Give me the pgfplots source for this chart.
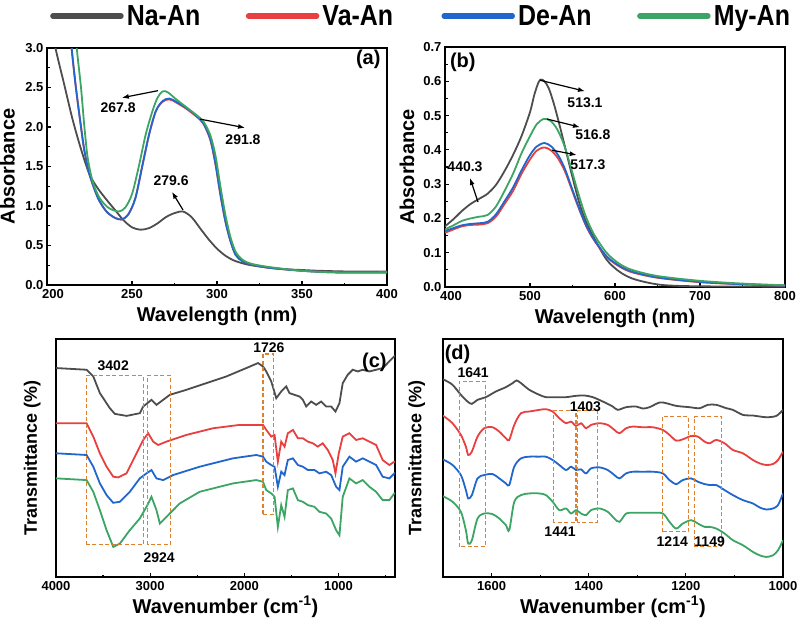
\documentclass[border=0pt]{standalone}
\usepackage{fontspec}
\setmainfont{Liberation Sans}
\newfontfamily\legfont[FakeStretch=0.86]{Liberation Sans}
\usepackage{pgfplots}
\pgfplotsset{compat=1.18}
\usepackage{pgfplotstable}
\usetikzlibrary{arrows.meta}

\definecolor{cNa}{RGB}{77,77,77}
\definecolor{cVa}{RGB}{232,64,64}
\definecolor{cDe}{RGB}{33,102,204}
\definecolor{cMy}{RGB}{60,165,100}
\definecolor{cOr}{RGB}{222,128,45}

\newcommand{\annfont}{\fontsize{14}{14}\selectfont\bfseries}
\newcommand{\panfont}{\fontsize{20}{20}\selectfont\bfseries}
\newcommand{\legtxt}[1]{\makebox[87pt][l]{#1}}

\tikzset{
  arr/.style={-{Latex[length=7pt,width=5pt]}, line width=1.2pt, black},
  box/.style={cOr, line width=1.1pt, dash pattern=on 4pt off 2.5pt},
}
\pgfplotsset{
  base/.style={
    scale only axis,
    axis line style={line width=1.4pt},
    tick align=inside,
    xtick pos=bottom, ytick pos=left,
    major tick length=4pt, minor tick length=2.5pt,
    tick style={black, line width=1.2pt},
    tick label style={font=\fontsize{13}{13}\selectfont\bfseries},
    xticklabel style={yshift=-1pt},
    /pgf/number format/assume math mode=true,
    /pgf/number format/1000 sep={},
    scaled x ticks=false,
    label style={font=\fontsize{20}{20}\selectfont\bfseries},
    xlabel style={at={(axis description cs:0.5,0)}, anchor=base, yshift=-36pt},
    every axis plot/.append style={line width=1.8pt},
  },
}

\pgfplotstableread{
x r b g
1700 482 352 242
1697.6 480 350 240
1680.4 460 335 225
1663.2 425 305 195
1652.9 390 260 140
1648.1 365 235 100
1640.6 375 245 110
1628.9 420 295 175
1615.1 445 305 190
1597.9 448 308 188
1584.2 435 295 175
1570.4 415 280 155
1563.6 410 275 140
1553.3 455 330 225
1539.5 490 355 245
1522.3 495 360 250
1501.7 500 360 250
1488.0 502 360 245
1474.2 495 350 225
1460.5 475 335 200
1446.7 460 320 205
1436.4 465 330 190
1426.1 452 320 200
1415.8 460 322 190
1405.5 445 310 185
1395.2 455 325 200
1378.0 460 328 205
1360.8 455 320 195
1347.1 440 305 175
1336.8 430 295 165
1323.0 445 310 190
1309.3 450 315 192
1288.6 448 315 192
1268.0 448 315 192
1247.4 440 310 190
1233.7 425 290 165
1219.9 408 278 145
1206.2 412 290 160
1189.0 422 295 170
1175.3 420 285 160
1161.5 405 278 150
1151.2 400 275 150
1137.4 410 275 145
1120.3 400 260 130
1103.1 380 245 110
1082.5 370 230 95
1061.9 350 220 75
1048.1 340 208 65
1034.4 335 202 60
1020.6 338 205 65
1010.3 350 215 80
1000 375 250 110
}\dataD

\begin{document}
\begin{tikzpicture}
\useasboundingbox (0,0) rectangle (799pt,622pt);

% ---------------- (a)
\begin{axis}[base, at={(47pt,337pt)}, anchor=south west, width=340pt, height=237pt,
  xmin=200, xmax=400, ymin=0, ymax=3,
  xtick={250,300,350,400}, ytick={0,0.5,1,1.5,2,2.5,3},
  extra x ticks={200}, extra x tick style={xticklabel style={xshift=6pt}},
  minor x tick num=1, minor y tick num=1,
  yticklabel style={/pgf/number format/.cd, fixed, fixed zerofill, precision=1},
  xlabel={Wavelength (nm)}, ylabel={Absorbance},
  ylabel style={at={(axis description cs:-0.116,0.5)}, anchor=center},
  legend columns=4,
  legend style={at={(axis description cs:0.0088,1.135)}, anchor=west, draw=none, fill=none,
    inner sep=0pt, font=\legfont\fontsize{29}{29}\selectfont\bfseries,
    /tikz/every even column/.append style={column sep=30pt}},
  legend image code/.code={\draw[#1, line width=5.5pt, line cap=round] (0pt,0pt) -- (68pt,0pt); \path (71pt,0pt);},
]
\addplot[cNa, smooth] coordinates {(203,3.3) (205,3.0) (210,2.55) (215,2.1) (220,1.72) (225,1.40) (230,1.22) (235,1.08) (240,0.95) (245,0.82) (250,0.73) (255,0.70) (260,0.72) (265,0.78) (270,0.86) (275,0.91) (280,0.93) (285,0.86) (290,0.72) (295,0.58) (300,0.46) (305,0.37) (310,0.31) (315,0.275) (320,0.25) (330,0.22) (340,0.20) (350,0.19) (360,0.18) (380,0.17) (400,0.17)};
\addplot[cVa, smooth] coordinates {(213.8,3.3) (214.5,3.0) (217,2.5) (220,2.0) (222,1.7) (225,1.4) (230,1.1) (235,0.93) (240,0.85) (244,0.83) (248,0.9) (252,1.1) (256,1.5) (260,1.9) (264,2.2) (268,2.32) (272,2.35) (276,2.31) (282,2.23) (288,2.13) (292,2.04) (296,1.84) (299,1.54) (302,1.14) (305,0.8) (308,0.55) (311,0.38) (315,0.3) (320,0.26) (330,0.22) (350,0.18) (370,0.16) (400,0.16)};
\addplot[cDe, smooth] coordinates {(213.8,3.3) (214.5,3.0) (217,2.5) (220,2.0) (222,1.7) (225,1.4) (230,1.1) (235,0.93) (240,0.85) (244,0.83) (248,0.9) (252,1.1) (256,1.5) (260,1.9) (264,2.2) (268,2.33) (272,2.36) (276,2.32) (282,2.24) (288,2.14) (292,2.05) (296,1.85) (299,1.55) (302,1.15) (305,0.8) (308,0.55) (311,0.38) (315,0.3) (320,0.26) (330,0.22) (350,0.18) (370,0.16) (400,0.16)};
\addplot[cMy, smooth] coordinates {(216.8,3.3) (217.5,3.0) (220,2.5) (222,2.0) (224,1.6) (227,1.3) (231,1.1) (236,0.98) (242,0.93) (246,0.98) (250,1.15) (254,1.5) (258,1.9) (262,2.2) (265,2.37) (268,2.45) (271,2.44) (276,2.35) (282,2.25) (288,2.15) (292,2.07) (296,1.9) (299,1.65) (302,1.25) (305,0.88) (308,0.6) (311,0.42) (315,0.32) (320,0.27) (330,0.23) (350,0.18) (370,0.16) (400,0.16)};
\legend{\legtxt{Na-An},\legtxt{Va-An},\legtxt{De-An},\legtxt{My-An}}
\draw[arr] (265.3,2.46) -- (244,2.37);
\node[font=\annfont] at (241.8,2.25) {267.8};
\draw[arr] (290,2.10) -- (316.5,1.99);
\node[font=\annfont] at (315.3,1.84) {291.8};
\draw[arr] (280,0.95) -- (273.5,1.18);
\node[font=\annfont] at (273,1.32) {279.6};
\node[font=\panfont] at (389,2.86) {(a)};
\end{axis}

% ---------------- (b)
\begin{axis}[base, at={(445pt,335pt)}, anchor=south west, width=340pt, height=240pt,
  xmin=400, xmax=800, ymin=0, ymax=0.7,
  xtick={500,600,700,800}, ytick={0,0.1,0.2,0.3,0.4,0.5,0.6,0.7},
  extra x ticks={400}, extra x tick style={xticklabel style={xshift=6pt}},
  minor x tick num=1, minor y tick num=1,
  yticklabel style={/pgf/number format/.cd, fixed, fixed zerofill, precision=1},
  xlabel={Wavelength (nm)}, ylabel={Absorbance},
  ylabel style={at={(axis description cs:-0.112,0.5)}, anchor=center},
]
\addplot[cNa, smooth] coordinates {(400,0.177) (410,0.198) (420,0.222) (430,0.242) (440,0.257) (450,0.272) (460,0.298) (470,0.338) (480,0.385) (490,0.44) (500,0.51) (505,0.56) (510,0.597) (513,0.605) (517,0.60) (522,0.58) (528,0.535) (535,0.47) (543,0.39) (550,0.32) (558,0.245) (566,0.19) (575,0.145) (590,0.08) (605,0.045) (620,0.025) (640,0.012) (660,0.005) (700,0.002) (800,0.001)};
\addplot[cVa, smooth] coordinates {(400,0.158) (410,0.168) (420,0.177) (430,0.181) (440,0.182) (450,0.186) (460,0.205) (470,0.242) (480,0.28) (490,0.33) (500,0.372) (508,0.398) (517,0.407) (525,0.398) (533,0.375) (541,0.338) (549,0.285) (557,0.232) (566,0.178) (575,0.138) (590,0.088) (605,0.06) (620,0.043) (650,0.027) (700,0.014) (750,0.008) (800,0.004)};
\addplot[cDe, smooth] coordinates {(400,0.163) (410,0.172) (420,0.18) (430,0.184) (440,0.186) (450,0.19) (460,0.212) (470,0.25) (480,0.29) (490,0.34) (500,0.385) (508,0.41) (517,0.42) (525,0.41) (533,0.385) (541,0.345) (549,0.29) (557,0.235) (566,0.18) (575,0.14) (590,0.09) (605,0.062) (620,0.045) (650,0.028) (700,0.015) (750,0.008) (800,0.004)};
\addplot[cMy, smooth] coordinates {(400,0.168) (410,0.18) (420,0.193) (430,0.2) (440,0.205) (450,0.21) (460,0.235) (470,0.28) (480,0.33) (490,0.39) (500,0.44) (508,0.475) (516,0.49) (524,0.485) (532,0.46) (540,0.415) (548,0.35) (556,0.28) (565,0.21) (575,0.155) (590,0.1) (605,0.068) (620,0.05) (650,0.032) (700,0.018) (750,0.01) (800,0.005)};
\draw[arr] (511.8,0.603) -- (564.7,0.571);
\node[font=\annfont] at (564.7,0.539) {513.1};
\draw[arr] (520,0.49) -- (558.8,0.466);
\node[font=\annfont] at (574,0.443) {516.8};
\draw[arr] (526,0.399) -- (555,0.385);
\node[font=\annfont] at (568,0.356) {517.3};
\draw[arr] (438.8,0.248) -- (429.4,0.318);
\node[font=\annfont] at (423.5,0.35) {440.3};
\node[font=\panfont] at (421,0.655) {(b)};
\end{axis}

% ---------------- (c)
\begin{axis}[base, at={(56pt,45pt)}, anchor=south west, width=339pt, height=238pt,
  x dir=reverse, xmin=400, xmax=4000, ymin=0, ymax=712,
  xtick={1000,2000,3000,4000}, minor xtick={500,1500,2500,3500}, ytick=\empty,
  xlabel={Wavenumber (cm\textsuperscript{-1})}, ylabel={Transmittance (\%)},
  ylabel style={at={(axis description cs:-0.07,0.5)}, anchor=center, font=\fontsize{18}{18}\selectfont\bfseries},
]
\addplot[cNa] coordinates {(4000,625) (3993,625) (3675,620) (3604,600) (3534,550) (3428,505) (3375,488) (3251,482) (3110,490) (3074,510) (2986,530) (2933,515) (2862,530) (2791,545) (2615,560) (2403,580) (2191,600) (1979,625) (1855,640) (1802,630) (1767,615) (1714,585) (1661,535) (1608,555) (1555,570) (1520,550) (1467,545) (1414,540) (1378,530) (1343,510) (1290,525) (1237,515) (1184,525) (1131,510) (1078,510) (1032,495) (990,520) (955,580) (902,605) (849,620) (796,615) (743,620) (672,615) (601,620) (531,625) (478,640) (407,660) (400,662)};
\addplot[cVa] coordinates {(4000,460) (3993,460) (3675,460) (3604,420) (3534,370) (3463,330) (3392,300) (3339,298) (3251,310) (3145,370) (3074,410) (3021,430) (2968,405) (2915,395) (2827,405) (2615,425) (2332,445) (2050,455) (1802,455) (1767,440) (1714,420) (1679,425) (1644,345) (1608,405) (1573,390) (1538,430) (1484,440) (1431,415) (1378,415) (1325,405) (1272,400) (1220,390) (1167,400) (1114,380) (1061,350) (1032,310) (997,370) (955,420) (884,430) (813,410) (743,415) (672,405) (601,395) (531,350) (460,335) (407,345) (400,346)};
\addplot[cDe] coordinates {(4000,370) (3993,370) (3675,365) (3604,330) (3534,280) (3463,245) (3392,222) (3322,225) (3216,255) (3110,295) (3039,310) (2986,320) (2933,295) (2862,290) (2756,305) (2474,330) (2120,355) (1873,365) (1802,360) (1767,345) (1714,335) (1679,330) (1644,270) (1608,315) (1573,305) (1538,350) (1484,355) (1431,335) (1378,330) (1325,320) (1255,320) (1202,310) (1131,315) (1078,305) (1025,270) (990,260) (955,330) (884,360) (813,345) (743,355) (672,345) (601,335) (531,300) (460,295) (407,310) (400,311)};
\addplot[cMy] coordinates {(4000,295) (3993,295) (3675,290) (3604,255) (3534,200) (3463,140) (3392,90) (3322,100) (3216,140) (3110,175) (3039,210) (2986,240) (2933,200) (2897,160) (2827,180) (2686,220) (2474,255) (2120,280) (1873,290) (1802,285) (1767,260) (1714,250) (1679,240) (1644,150) (1608,215) (1573,180) (1538,260) (1484,265) (1431,230) (1378,225) (1325,215) (1255,210) (1202,195) (1131,190) (1078,175) (1025,140) (990,125) (955,240) (884,295) (813,280) (743,290) (672,270) (601,255) (531,230) (460,230) (407,250) (400,251)};
\draw[box] (3675,97) rectangle (3074,603);
\draw[box] (3028,97) rectangle (2785,603);
\draw[box] (1802,187) rectangle (1689,667);
\node[font=\annfont] at (3392,632) {3402};
\node[font=\annfont] at (2905,58) {2924};
\node[font=\annfont] at (1739,687) {1726};
\node[font=\panfont] at (619,642) {(c)};
\end{axis}

% ---------------- (d)
\begin{axis}[base, at={(443pt,45pt)}, anchor=south west, width=340pt, height=238pt,
  x dir=reverse, xmin=1000, xmax=1700, ymin=0, ymax=712,
  xtick={1000,1200,1400,1600}, minor xtick={1100,1300,1500}, ytick=\empty,
  xlabel={Wavenumber (cm\textsuperscript{-1})}, ylabel={Transmittance (\%)},
  ylabel style={at={(axis description cs:-0.077,0.5)}, anchor=center, font=\fontsize{18}{18}\selectfont\bfseries},
]
\addplot[cNa, smooth, tension=0.5] coordinates {(1700,592) (1697.6,590) (1680.4,575) (1663.2,545) (1649.5,525) (1640.6,518) (1628.9,530) (1611.7,538) (1591.1,555) (1570.4,568) (1556.7,580) (1548.5,588) (1539.5,580) (1522.3,560) (1501.7,545) (1488.0,538) (1467.4,538) (1446.7,538) (1426.1,542) (1408.9,543) (1391.7,538) (1371.1,525) (1350.5,510) (1340.2,500) (1323.0,508) (1302.4,510) (1288.6,504) (1274.9,508) (1254.3,522) (1240.5,520) (1219.9,512) (1192.4,508) (1171.8,505) (1154.6,515) (1137.4,515) (1116.8,505) (1103.1,500) (1082.5,485) (1061.9,483) (1034.4,478) (1013.7,482) (1000,500)};
\addplot[cVa, smooth, tension=0.5] table[x=x, y=r] {\dataD};
\addplot[cDe, smooth, tension=0.5] table[x=x, y=b] {\dataD};
\addplot[cMy, smooth, tension=0.5] table[x=x, y=g] {\dataD};
\draw[box] (1666.7,90) rectangle (1613.1,585);
\draw[box] (1472.2,163) rectangle (1426.1,497);
\draw[box] (1422.7,163) rectangle (1382.8,497);
\draw[box] (1248.8,135) rectangle (1193.8,480);
\draw[box] (1182.1,90) rectangle (1125.8,480);
\node[font=\annfont] at (1637.8,612) {1641};
\node[font=\annfont] at (1406.9,510) {1403};
\node[font=\annfont] at (1459,135) {1441};
\node[font=\annfont] at (1228,105) {1214};
\node[font=\annfont] at (1151,105) {1149};
\node[font=\panfont] at (1670,665) {(d)};
\end{axis}
\end{tikzpicture}
\end{document}
